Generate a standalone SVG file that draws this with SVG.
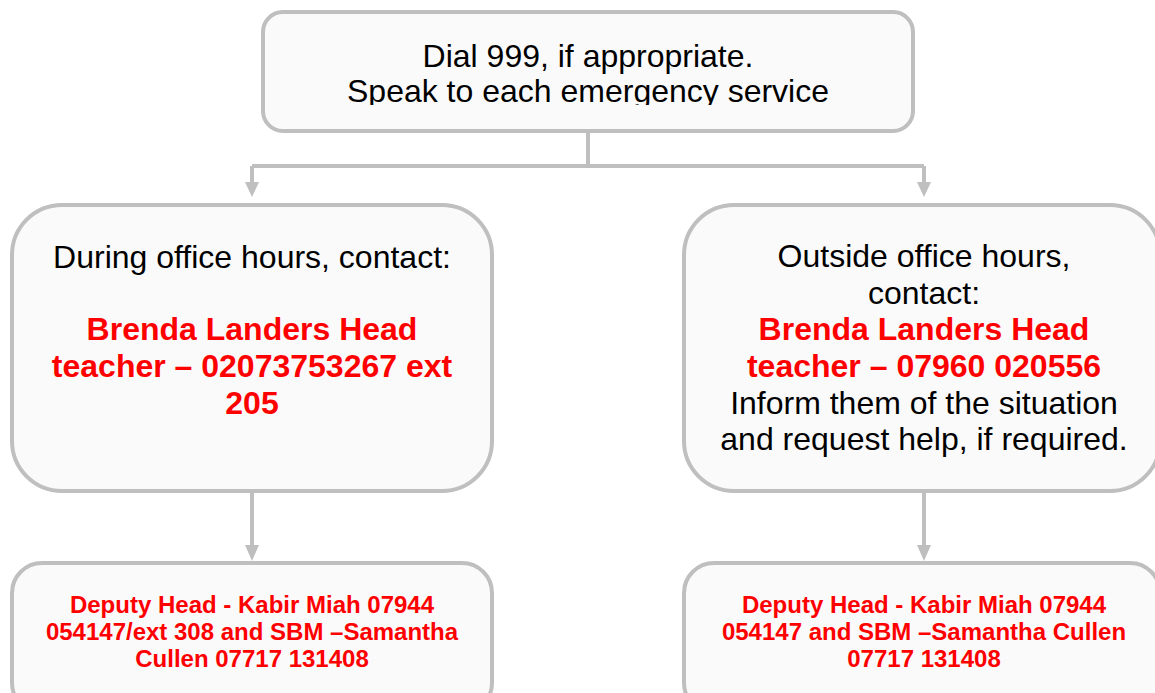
<svg xmlns="http://www.w3.org/2000/svg" width="1155" height="693" viewBox="0 0 1155 693">
<style>
.box{fill:#fafafa;stroke:#bfbfbf;stroke-width:4}
.t{font-family:"Liberation Sans",Arial,sans-serif;font-size:32px;fill:#000;text-anchor:middle}
.r{font-family:"Liberation Sans",Arial,sans-serif;font-size:32px;font-weight:bold;fill:#ff0000;text-anchor:middle}
.s{font-family:"Liberation Sans",Arial,sans-serif;font-size:24px;font-weight:bold;fill:#ff0000;text-anchor:middle}
.c{fill:none;stroke:#bfbfbf;stroke-width:4}
</style>
<defs>
<clipPath id="clipTop"><rect x="263" y="12" width="650" height="93"/></clipPath>
</defs>
<rect width="1155" height="693" fill="#ffffff"/>
<g id="connectors">
<path class="c" d="M588,131 V166 M252,166 H924 M252,166 V186 M924,166 V186"/>
<polygon points="245,182 259,182 252,197" fill="#bfbfbf"/>
<polygon points="917,182 931,182 924,197" fill="#bfbfbf"/>
<path class="c" d="M252,491 V548 M924,491 V548"/>
<polygon points="245,545 259,545 252,561" fill="#bfbfbf"/>
<polygon points="917,545 931,545 924,561" fill="#bfbfbf"/>
</g>
<g id="top">
<rect class="box" x="263" y="12" width="650" height="119" rx="20"/>
<g clip-path="url(#clipTop)">
<text class="t" x="588" y="67">Dial 999, if appropriate.</text>
<text class="t" x="588" y="102">Speak to each emergency service</text>
</g>
</g>
<g id="during">
<rect class="box" x="12" y="205" width="480" height="286" rx="50"/>
<text class="t" x="252" y="268">During office hours, contact:</text>
<text class="r" x="252" y="340">Brenda Landers Head</text>
<text class="r" x="252" y="377">teacher – 02073753267 ext</text>
<text class="r" x="252" y="414">205</text>
</g>
<g id="outside">
<rect class="box" x="684" y="205" width="476" height="286" rx="50"/>
<text class="t" x="924" y="267">Outside office hours,</text>
<text class="t" x="924" y="304">contact:</text>
<text class="r" x="924" y="340">Brenda Landers Head</text>
<text class="r" x="924" y="377">teacher – 07960 020556</text>
<text class="t" x="924" y="414">Inform them of the situation</text>
<text class="t" x="924" y="450">and request help, if required.</text>
</g>
<g id="deputy-left">
<rect class="box" x="12" y="563" width="480" height="150" rx="30"/>
<text class="s" x="252" y="613">Deputy Head - Kabir Miah 07944</text>
<text class="s" x="252" y="640">054147/ext 308 and SBM –Samantha</text>
<text class="s" x="252" y="667">Cullen 07717 131408</text>
</g>
<g id="deputy-right">
<rect class="box" x="684" y="563" width="476" height="150" rx="30"/>
<text class="s" x="924" y="613">Deputy Head - Kabir Miah 07944</text>
<text class="s" x="924" y="640">054147 and SBM –Samantha Cullen</text>
<text class="s" x="924" y="667">07717 131408</text>
</g>
</svg>
